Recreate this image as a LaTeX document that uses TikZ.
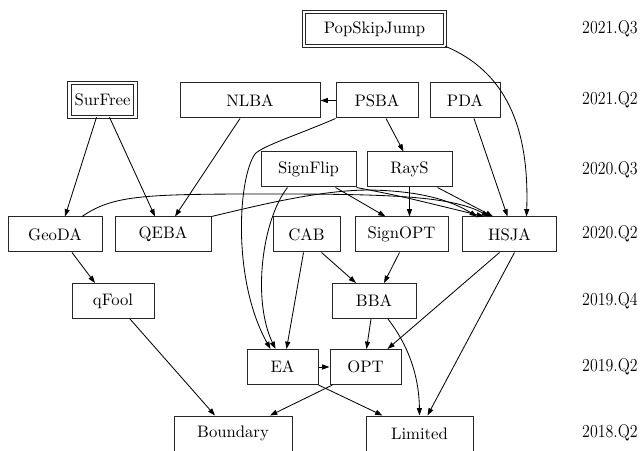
\documentclass[tikz,border=0pt]{standalone}
\usepackage{graphicx}
\usetikzlibrary{arrows.meta,calc}
\begin{document}
\begin{tikzpicture}[x=0.6pt,y=-0.6pt,
  box/.style={draw=black!85, line width=0.6pt, rectangle, inner sep=0pt,
    minimum height=35*0.6pt, font=\fontsize{10}{12}\selectfont},
  dbox/.style={box, double, double distance=1.4pt, minimum height=33.5*0.6pt},
  wd/.style={minimum width=#1*0.6pt},
  arr/.style={-{Triangle[length=4.4pt,width=3pt]}, line width=0.5pt},
  yr/.style={font=\fontsize{11}{13}\selectfont, inner sep=0pt}]
\useasboundingbox (0,0) rectangle (640,451);

% nodes
\node[dbox, wd=140.5] (PSJ) at (374.5,29) {PopSkipJump};
\node[dbox, wd=66] (SurFree) at (102.5,100) {SurFree};
\node[box, wd=140] (NLBA) at (250,100.5) {NLBA};
\node[box, wd=82] (PSBA) at (377,100.5) {PSBA};
\node[box, wd=70] (PDA) at (465,100.5) {PDA};
\node[box, wd=95] (SignFlip) at (308.5,169.5) {SignFlip};
\node[box, wd=85] (RayS) at (409.5,169.5) {RayS};
\node[box, wd=94] (GeoDA) at (55,234.5) {GeoDA};
\node[box, wd=96] (QEBA) at (163,234.5) {QEBA};
\node[box, wd=67] (CAB) at (306.5,234.5) {CAB};
\node[box, wd=93] (SignOPT) at (401.5,234.5) {SignOPT};
\node[box, wd=94] (HSJA) at (509.5,234.5) {HSJA};
\node[box, wd=82] (qFool) at (113,301) {qFool};
\node[box, wd=84] (BBA) at (374,301) {BBA};
\node[box, wd=71] (EA) at (282.5,367) {EA};
\node[box, wd=71] (OPT) at (365.5,367) {OPT};
\node[box, wd=118] (Boundary) at (233,433.5) {Boundary};
\node[box, wd=107] (Limited) at (419.5,433.5) {Limited};

% year labels
\node[yr] (y1) at (610,29) {\scalebox{0.87}[1]{2021.Q3}};
\node[yr] (y2) at (610,100) {\scalebox{0.87}[1]{2021.Q2}};
\node[yr] (y3) at (610,170) {\scalebox{0.87}[1]{2020.Q3}};
\node[yr] (y4) at (610,234) {\scalebox{0.87}[1]{2020.Q2}};
\node[yr] (y5) at (610,301) {\scalebox{0.87}[1]{2019.Q4}};
\node[yr] (y6) at (610,367) {\scalebox{0.87}[1]{2019.Q2}};
\node[yr] (y7) at (610,433) {\scalebox{0.87}[1]{2018.Q2}};

% edges
\draw[arr] (PSJ.south east) .. controls +(60,25) and +(3,-90) .. ($(HSJA.north)+(17,0)$);
\draw[arr] (PSBA.west) -- (NLBA.east);
\draw[arr] (PSBA.south west) .. controls (300,134) and (262,146) .. (255,154)
  .. controls (238,178) and (232,280) .. ($(EA.north)+(-12,0)$);
\draw[arr] ($(PSBA.south)+(9,0)$) -- ($(RayS.north)+(-6,0)$);
\draw[arr] ($(PDA.south)+(9,0)$) -- ($(HSJA.north)+(-2,0)$);
\draw[arr] ($(SurFree.south)+(-6,0)$) -- ($(GeoDA.north)+(10,0)$);
\draw[arr] ($(SurFree.south)+(7,0)$) -- ($(QEBA.north)+(-8,0)$);
\draw[arr] ($(NLBA.south)+(-10,0)$) -- ($(QEBA.north)+(12,0)$);
\draw[arr] ($(SignFlip.south)+(-21,0)$) .. controls (262,220) and (252,300) .. ($(EA.north)+(-7,0)$);
\draw[arr] ($(SignFlip.south)+(27,0)$) -- ($(SignOPT.north)+(-16,0)$);
\draw[arr] (SignFlip.south east) .. controls (400,196) .. ($(HSJA.north west)+(22,0)$);
\draw[arr] (RayS.south) -- (RayS.south |- SignOPT.north);
\draw[arr] ($(RayS.south)+(28,0)$) -- ($(HSJA.north west)+(31,0)$);
\draw[arr] ($(GeoDA.north)+(27,0)$) .. controls (112,196) and (140,194) .. (260,194)
  .. controls (380,194) and (450,195) .. ($(HSJA.north west)+(27,0)$);
\draw[arr] (QEBA.north east) .. controls (260,205) and (320,190) .. (370,190)
  .. controls (420,191) and (450,200) .. ($(HSJA.north west)+(15,0)$);
\draw[arr] ($(CAB.south)+(-3,0)$) -- ($(EA.north)+(4,0)$);
\draw[arr] ($(CAB.south)+(15,0)$) -- ($(BBA.north)+(-18,0)$);
\draw[arr] ($(SignOPT.south)+(-2,0)$) -- ($(BBA.north)+(10,0)$);
\draw[arr] ($(HSJA.south)+(-10,0)$) -- ($(OPT.north)+(22,0)$);
\draw[arr] ($(HSJA.south)+(5,0)$) -- ($(Limited.north)+(8,0)$);
\draw[arr] ($(GeoDA.south)+(17,0)$) -- ($(qFool.north)+(-18,0)$);
\draw[arr] ($(qFool.south)+(17,0)$) -- ($(Boundary.north)+(-18,0)$);
\draw[arr] ($(BBA.south)+(-3,0)$) -- ($(OPT.north)+(1,0)$);
\draw[arr] ($(BBA.south)+(14,0)$) .. controls (408,345) and (419,375) .. (Limited.north);
\draw[arr] (EA.east) -- (OPT.west);
\draw[arr] (EA.south east) -- ($(Limited.north west)+(17,0)$);
\draw[arr] ($(OPT.south west)+(3,0)$) -- ($(Boundary.north)+(37,0)$);
\end{tikzpicture}
\end{document}
